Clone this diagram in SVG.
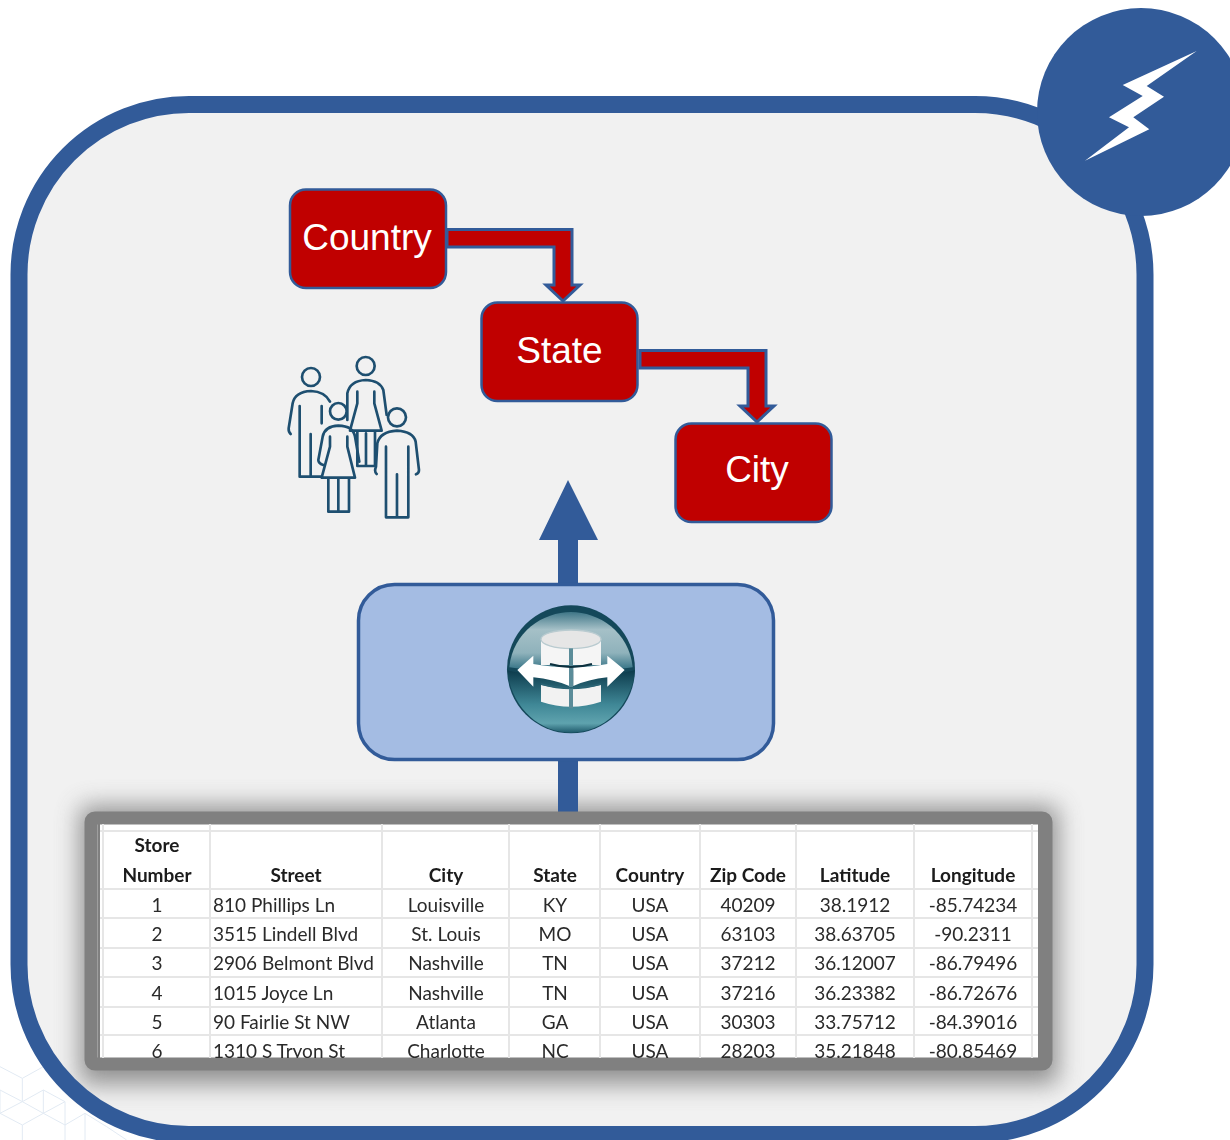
<svg xmlns="http://www.w3.org/2000/svg" width="1230" height="1140" viewBox="0 0 1230 1140">
<style>
.node{fill:#c00000;stroke:#325b99;stroke-width:2.5}
.nl{font:37px "Liberation Sans",Arial,sans-serif;fill:#fff;text-anchor:middle}
.bend{fill:#c00000;stroke:#325b99;stroke-width:3}
.blue{fill:#325b99}
.p{fill:none;stroke:#1e4f70;stroke-width:8;stroke-linecap:round;stroke-linejoin:round}
.hex{fill:none;stroke:#e2eaf3;stroke-width:3}
.g{stroke:#e6e6e6;stroke-width:2;fill:none}
.t{font-family:Lato,"Liberation Sans",sans-serif;font-size:19px;fill:#2a2a2a;text-anchor:middle}
.h{font-weight:700;fill:#1a1a1a}
.s{text-anchor:start}
</style>
<defs>
<filter id="sh" x="-10%" y="-20%" width="120%" height="140%"><feGaussianBlur stdDeviation="12"/></filter>
<filter id="soft" x="-2%" y="-2%" width="104%" height="104%"><feGaussianBlur stdDeviation="0.5"/></filter>
<filter id="iconblur" x="-5%" y="-5%" width="110%" height="110%"><feGaussianBlur stdDeviation="2"/></filter>
<clipPath id="tc"><rect x="100" y="824" width="938" height="234"/></clipPath>
<linearGradient id="gloss" x1="0" y1="0" x2="0" y2="1"><stop offset="0" stop-color="#3f7687"/><stop offset=".3" stop-color="#a5c0c7"/><stop offset=".7" stop-color="#8fb2bb"/><stop offset="1" stop-color="#2f6f82"/></linearGradient>
<linearGradient id="low" x1="0" y1="0" x2="0" y2="1"><stop offset="0" stop-color="#0c3a4b"/><stop offset=".55" stop-color="#3f8796"/><stop offset=".85" stop-color="#5fa3ae"/><stop offset="1" stop-color="#1f5a6c"/></linearGradient>
</defs>
<rect width="1230" height="1140" fill="#fff"/>
<g id="hexbg" transform="translate(0,1040) scale(.3333)">
<path class="hex" d="M0,80L67,115L130,80M67,115V185M0,150L67,185L130,150M0,220L67,185M0,150V220M130,150V220M67,185L130,220L195,185M0,220L67,255L130,220M67,255V300M130,220L195,255L255,220M195,185V255M195,255V300M255,220V300M130,150L195,185M255,220L320,260L380,300M195,115L255,150"/>
</g>
<rect id="panel-fill" x="19" y="104.500" width="1126" height="1030" rx="170" fill="#f1f1f1"/>
<rect id="table-shadow" x="80" y="806" width="978" height="278" rx="6" fill="#777" opacity=".8" filter="url(#sh)"/>
<rect id="panel" x="19" y="104.500" width="1126" height="1030" rx="170" fill="none" stroke="#325b99" stroke-width="17"/>
<g id="connectors">
<path class="bend" d="M447,229.500H572V285H580L563,301L546,285H554V247H447Z"/>
<path class="bend" d="M640,350.500H766V406H774L757,422L740,406H748V368H640Z"/>
<path class="blue" d="M558,585V540H539L568,480L598,540H578V585Z"/>
<rect class="blue" x="558" y="758" width="20" height="56"/>
</g>
<g id="country"><rect class="node" x="290" y="189.500" width="156" height="98.500" rx="16"/><text class="nl" x="367" y="250">Country</text></g>
<g id="state"><rect class="node" x="481.500" y="302.500" width="156" height="98.500" rx="16"/><text class="nl" x="559.500" y="363">State</text></g>
<g id="city"><rect class="node" x="675.500" y="423.500" width="156" height="98.500" rx="16"/><text class="nl" x="757" y="482">City</text></g>
<g id="people" transform="translate(270,340) scale(.3333)">
<circle class="p" cx="123" cy="111" r="27"/>
<path class="p" d="M62,282Q55,275 56,265L68,190Q75,155 123,153Q165,155 180,185M89,198V410H155M155,198V250M122,282V410"/>
<circle class="p" cx="287" cy="78" r="27"/>
<path class="p" d="M232,240L232,160Q240,122 287,120Q330,122 340,150L350,225M262,155V190L240,272H335L313,190V155M262,275V378H315V275M288,280V378"/>
<circle class="p" cx="205" cy="214" r="25"/>
<path class="p" d="M160,375Q145,370 145,360L158,290Q165,258 205,257Q250,258 255,290L268,365M180,290V320L155,413H255L232,320V290M175,413V515H237V413M205,415V515"/>
<circle class="p" cx="381" cy="232" r="27"/>
<path class="p" d="M320,402Q312,395 318,380L322,310Q330,275 381,272Q430,275 437,305L447,390Q447,400 438,403M348,320V532H415V320M381,403V532"/>
</g>
<g id="transform">
<rect x="358.500" y="584.500" width="415" height="175" rx="36" fill="#a4bce3" stroke="#325b99" stroke-width="3.500"/>
<g transform="translate(490,590) scale(.3333)">
<circle cx="243" cy="238" r="192" fill="#14485a"/>
<path d="M58,232C68,125 160,66 243,66C326,66 418,125 428,232C350,245 136,245 58,232Z" fill="url(#gloss)"/>
<path d="M52,240C120,262 366,262 435,240C425,350 340,428 243,428C146,428 62,350 52,240Z" fill="url(#low)"/>
<path d="M153,150V225H333V150Z" fill="#f5f5f5"/>
<ellipse cx="243" cy="148" rx="90" ry="28" fill="#e6e6e6" stroke="#b9cbd0" stroke-width="4"/>
<path d="M153,285Q243,310 333,285V335Q243,365 153,335Z" fill="#f2f2f2"/>
<path d="M82,240L130,197V222Q190,232 238,232V288Q190,268 130,262V290Z" fill="#fff"/>
<path d="M404,240L352,197V222Q295,232 250,232V288Q295,268 352,262V290Z" fill="#fff"/>
<path d="M243,175V355" stroke="#5b8c99" stroke-width="12" fill="none"/>
<path d="M180,222Q243,240 306,222" stroke="#0c2f3d" stroke-width="6" fill="none"/>
<path d="M153,282Q243,305 333,282" stroke="#2b6475" stroke-width="5" fill="none"/>
</g>
</g>
<g id="table">
<rect x="91" y="818" width="955" height="246" rx="4" fill="#fff" stroke="#808080" stroke-width="13"/>
<rect x="97.500" y="824" width="2.500" height="234" fill="#808080"/>
<rect x="1038" y="824" width="2" height="234" fill="#808080"/>
<g clip-path="url(#tc)">
<path class="g" d="M103,824V1058M210,824V1058M382,824V1058M509,824V1058M600,824V1058M700,824V1058M796,824V1058M914,824V1058M1032,824V1058M100,831H1038M100,889H1038M100,918H1038M100,948H1038M100,977H1038M100,1007H1038M100,1035H1038"/>
<g filter="url(#soft)">
<g class="h">
<text class="t h" x="157" y="852">Store</text><text class="t h" x="157" y="882">Number</text><text class="t h" x="296" y="882">Street</text><text class="t h" x="446" y="882">City</text><text class="t h" x="555" y="882">State</text><text class="t h" x="650" y="882">Country</text><text class="t h" x="748" y="882">Zip Code</text><text class="t h" x="855" y="882">Latitude</text><text class="t h" x="973" y="882">Longitude</text>
</g>
<text class="t" x="157" y="912">1</text><text class="t s" x="213" y="912">810 Phillips Ln</text><text class="t" x="446" y="912">Louisville</text><text class="t" x="555" y="912">KY</text><text class="t" x="650" y="912">USA</text><text class="t" x="748" y="912">40209</text><text class="t" x="855" y="912">38.1912</text><text class="t" x="973" y="912">-85.74234</text>
<text class="t" x="157" y="941">2</text><text class="t s" x="213" y="941">3515 Lindell Blvd</text><text class="t" x="446" y="941">St. Louis</text><text class="t" x="555" y="941">MO</text><text class="t" x="650" y="941">USA</text><text class="t" x="748" y="941">63103</text><text class="t" x="855" y="941">38.63705</text><text class="t" x="973" y="941">-90.2311</text>
<text class="t" x="157" y="970">3</text><text class="t s" x="213" y="970">2906 Belmont Blvd</text><text class="t" x="446" y="970">Nashville</text><text class="t" x="555" y="970">TN</text><text class="t" x="650" y="970">USA</text><text class="t" x="748" y="970">37212</text><text class="t" x="855" y="970">36.12007</text><text class="t" x="973" y="970">-86.79496</text>
<text class="t" x="157" y="1000">4</text><text class="t s" x="213" y="1000">1015 Joyce Ln</text><text class="t" x="446" y="1000">Nashville</text><text class="t" x="555" y="1000">TN</text><text class="t" x="650" y="1000">USA</text><text class="t" x="748" y="1000">37216</text><text class="t" x="855" y="1000">36.23382</text><text class="t" x="973" y="1000">-86.72676</text>
<text class="t" x="157" y="1029">5</text><text class="t s" x="213" y="1029">90 Fairlie St NW</text><text class="t" x="446" y="1029">Atlanta</text><text class="t" x="555" y="1029">GA</text><text class="t" x="650" y="1029">USA</text><text class="t" x="748" y="1029">30303</text><text class="t" x="855" y="1029">33.75712</text><text class="t" x="973" y="1029">-84.39016</text>
<text class="t" x="157" y="1058">6</text><text class="t s" x="213" y="1058">1310 S Tryon St</text><text class="t" x="446" y="1058">Charlotte</text><text class="t" x="555" y="1058">NC</text><text class="t" x="650" y="1058">USA</text><text class="t" x="748" y="1058">28203</text><text class="t" x="855" y="1058">35.21848</text><text class="t" x="973" y="1058">-80.85469</text>
</g>
</g>
</g>
<g id="badge">
<circle cx="1141" cy="112" r="104" fill="#325b99"/>
<path d="M1196.700,51L1122.700,85L1142.700,96L1109,117.300L1129,127.300L1085,160.700L1149.300,129.300L1133.300,117.300L1164,96.700L1146.700,86Z" fill="#fff"/>
</g>
</svg>
